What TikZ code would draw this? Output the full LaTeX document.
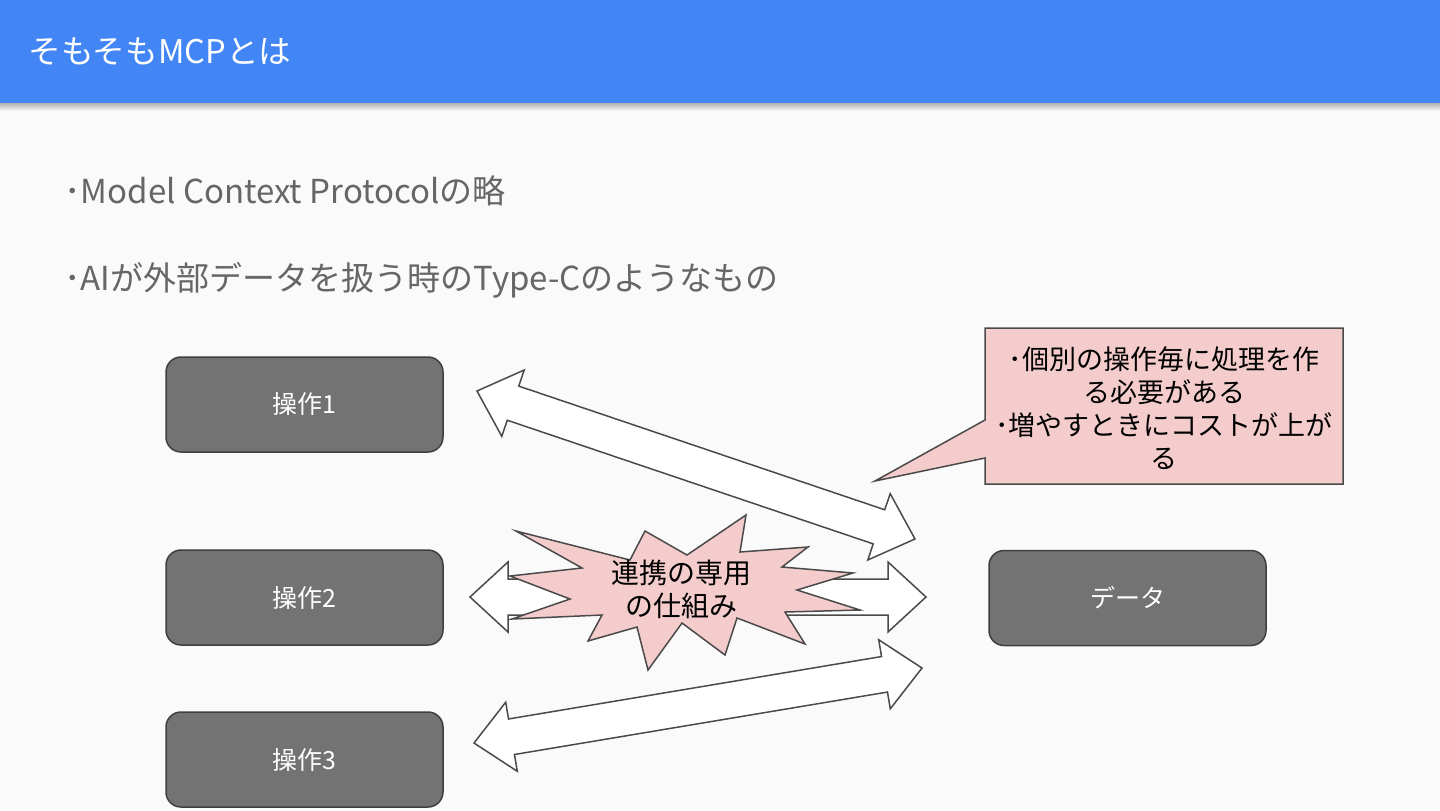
\documentclass[tikz,border=0pt]{standalone}
\usepackage{fontspec}
\setmainfont{Noto Sans CJK JP}
\usetikzlibrary{calc}
\definecolor{hdr}{HTML}{4285F4}
\definecolor{bg}{HTML}{FAFAFA}
\definecolor{txtgray}{HTML}{666666}
\definecolor{boxfill}{HTML}{737373}
\definecolor{boxline}{HTML}{3F3F3F}
\definecolor{pinkfill}{HTML}{F4CCCC}
\definecolor{shapeline}{HTML}{4A4A4A}
\def\bahl{19pt}\def\bahw{17.5pt}\def\basw{9pt}
\newcommand{\blockarrow}[2]{%
  \path let \p1=($(#2)-(#1)$) in \pgfextra{%
    \pgfmathsetmacro\baang{atan2(\y1,\x1)}%
    \pgfmathsetmacro\balen{veclen(\x1,\y1)}%
    \xdef\baang{\baang}\xdef\balen{\balen}};
  \draw[barrow,shift={(#1)},rotate=\baang]
    (0pt,0pt) -- (\bahl,\bahw) -- (\bahl,\basw) -- (\balen pt-\bahl,\basw)
    -- (\balen pt-\bahl,\bahw) -- (\balen pt,0pt) -- (\balen pt-\bahl,-\bahw)
    -- (\balen pt-\bahl,-\basw) -- (\bahl,-\basw) -- (\bahl,-\bahw) -- cycle;
}
\tikzset{
  barrow/.style={draw=shapeline,fill=white,line width=0.75pt,line join=miter},
  opbox/.style={draw=boxline,fill=boxfill,line width=0.75pt,rounded corners=7.5pt,
    minimum width=138.5pt,minimum height=47.5pt,text=white,
    font=\fontsize{12.5}{15}\selectfont},
  bullet/.style={text=txtgray,font=\fontsize{16.5}{20}\selectfont},
  burst/.style={draw=shapeline,fill=pinkfill,line width=0.75pt,line join=miter},
  callout/.style={draw=shapeline,fill=pinkfill,line width=0.75pt,line join=miter},
}
\begin{document}
\begin{tikzpicture}[x=0.5pt,y=-0.5pt,every node/.style={inner sep=0pt}]
\useasboundingbox (0,0) rectangle (1440,810);
\fill[bg] (0,0) rectangle (1440,810);
\shade[top color=black!30,bottom color=bg] (0,103) rectangle (1440,111);
\fill[hdr] (0,0) rectangle (1440,103);
\node[anchor=base west,text=white,font=\fontsize{16.3}{20}\selectfont] (title) at (28,63) {そもそもMCPとは};
\node[anchor=base west,bullet] (b1) at (64,203) {･Model Context Protocolの略};
\node[anchor=base west,bullet] (b2) at (64,290) {･AIが外部データを扱う時のType-Cのようなもの};
\node[opbox] (op1) at (304.5,404.5) {操作1};
\node[opbox] (op2) at (304.5,597.5) {操作2};
\node[opbox] (op3) at (304.5,759.5) {操作3};
\node[opbox] (data) at (1127.5,598) {データ};
\coordinate (a1s) at (477,391);
\coordinate (a1e) at (915,539);
\coordinate (a2s) at (470,597);
\coordinate (a2e) at (926,597);
\coordinate (a3s) at (474,743);
\coordinate (a3e) at (922,668);
\blockarrow{a1s}{a1e}
\blockarrow{a2s}{a2e}
\blockarrow{a3s}{a3e}
\draw[burst] (516,531) -- (630,560) -- (645,531) -- (687,555) -- (746,515) -- (740,552)
  -- (808,547) -- (782,567) -- (853,573) -- (797,590) -- (860,610) -- (785,612)
  -- (805,644) -- (737,618) -- (725,655) -- (682,623) -- (648,670) -- (637,627)
  -- (588,641) -- (602,615) -- (512,619) -- (570,599) -- (510,576) -- (582,568) -- cycle;
\node[align=center,font=\fontsize{14}{16.5}\selectfont] (bursttext) at (681,589) {連携の専用\\の仕組み};
\draw[callout] (985,328) -- (1343,328) -- (1343,484) -- (985,484) -- (985,458) -- (875,481) -- (985,420) -- cycle;
\node[align=center,font=\fontsize{13.5}{16.5}\selectfont] (note) at (1164,408)
  {･個別の操作毎に処理を作\\る必要がある\\･増やすときにコストが上が\\る};
\end{tikzpicture}
\end{document}
